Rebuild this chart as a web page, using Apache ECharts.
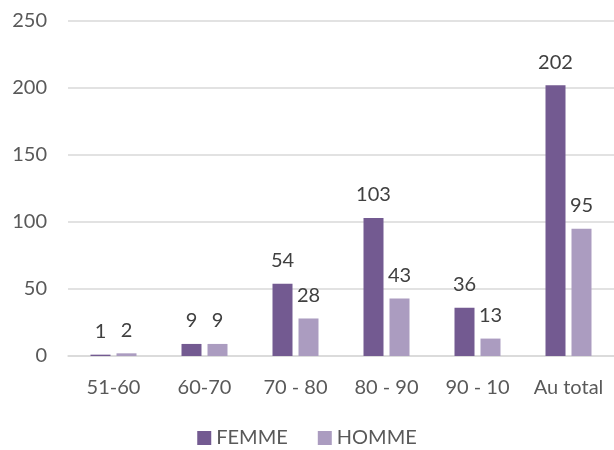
<!DOCTYPE html>
<html>
<head>
<meta charset="utf-8">
<script src="https://cdn.jsdelivr.net/npm/echarts@6/dist/echarts.min.js"></script>
<style>
    html, body { margin: 0; padding: 0; background: #fff; }
    #chart { width: 614px; height: 450px; }
</style>
</head>
<body>
<div id="chart"></div>
<script>
// données
const categories = ['51-60', '60-70', '70 - 80', '80 - 90', '90 - 10', 'Au total']
const femme = [1, 9, 54, 103, 36, 202]
const homme = [2, 9, 28, 43, 13, 95]
const yTicks = [0, 50, 100, 150, 200, 250]

const chart = echarts.init(document.getElementById('chart'))

const labelStyle = {
    show: true,
    position: 'top',
    distance: 13,
    color: '#404040',
    fontSize: 20,
    fontFamily: 'Lato'
}

let options = {
    animation: false,
    textStyle: { fontFamily: 'Lato' },
    grid: { left: 68, right: 0, top: 21, bottom: 94 },
    legend: {
        top: 423,
        left: 'center',
        itemWidth: 14,
        itemHeight: 14,
        itemGap: 30,
        icon: 'rect',
        textStyle: { color: '#595959', fontSize: 20, fontFamily: 'Lato' },
        data: ['FEMME', 'HOMME']
    },
    xAxis: {
        type: 'category',
        data: categories,
        axisLine: { lineStyle: { color: '#d9d9d9', width: 1.5 } },
        axisTick: { show: false },
        axisLabel: { color: '#595959', fontSize: 20, margin: 22, interval: 0 }
    },
    yAxis: {
        type: 'value',
        min: yTicks[0],
        max: yTicks[yTicks.length - 1],
        interval: 50,
        axisLine: { show: false },
        axisTick: { show: false },
        splitLine: { lineStyle: { color: '#d9d9d9', width: 1.5 } },
        axisLabel: { color: '#595959', fontSize: 20, margin: 21 }
    },
    series: [
        {
            name: 'FEMME',
            type: 'bar',
            data: femme,
            barWidth: 20,
            barGap: '30%',
            itemStyle: { color: '#735a91' },
            label: labelStyle
        },
        {
            name: 'HOMME',
            type: 'bar',
            data: homme,
            barWidth: 20,
            itemStyle: { color: '#ab9cc0' },
            label: labelStyle
        }
    ]
}

chart.setOption(options)
</script>
</body>
</html>
